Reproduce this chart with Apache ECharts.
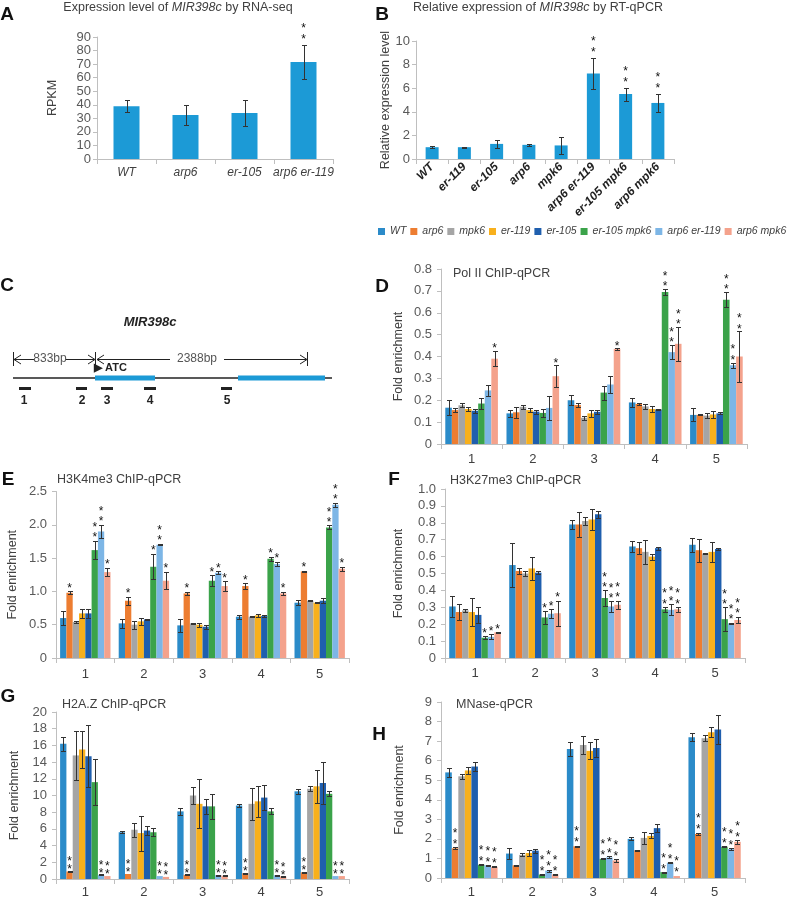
<!DOCTYPE html>
<html><head><meta charset="utf-8">
<script src="https://cdn.jsdelivr.net/npm/echarts@6/dist/echarts.min.js"></script>
<style>html,body{margin:0;padding:0;background:#fff}#c{width:791px;height:899px}</style>
</head><body><div id="c"></div>
<script>
// ---------- DATA ----------
const genotypes = ['WT','arp6','mpk6','er-119','er-105','er-105 mpk6','arp6 er-119','arp6 mpk6'];
const regions = ['1','2','3','4','5'];

// A: RNA-seq
const rnaSeqCats = ['WT','arp6','er-105','arp6 er-119'];
const rnaSeqVal = [39, 32.5, 34, 71.5];
const rnaSeqErr = [4.3, 7.2, 9.8, 12.5];
const rnaSeqStars = [0, 0, 0, 2];

// B: RT-qPCR
const rtCats = ['WT','er-119','er-105','arp6','mpk6','arp6 er-119','er-105 mpk6','arp6 mpk6'];
const rtVal = [1.0, 1.0, 1.28, 1.2, 1.15, 7.25, 5.5, 4.75];
const rtErr = [0.1, 0.04, 0.37, 0.08, 0.75, 1.35, 0.55, 0.8];
const rtStars = [0, 0, 0, 0, 0, 2, 2, 2];

// D: Pol II ChIP-qPCR  (rows = genotypes, cols = regions)
const polIIVal = [
  [0.166,0.140,0.200,0.190,0.133],
  [0.155,0.145,0.178,0.183,0.133],
  [0.177,0.170,0.120,0.172,0.130],
  [0.160,0.155,0.140,0.160,0.135],
  [0.152,0.148,0.147,0.158,0.140],
  [0.185,0.142,0.235,0.695,0.660],
  [0.245,0.165,0.272,0.420,0.360],
  [0.390,0.310,0.435,0.458,0.400]];
const polIIErr = [
  [0.033,0.015,0.023,0.022,0.030],
  [0.010,0.026,0.011,0.006,0.002],
  [0.010,0.010,0.008,0.012,0.013],
  [0.010,0.010,0.015,0.012,0.017],
  [0.010,0.009,0.010,0.001,0.005],
  [0.025,0.020,0.032,0.015,0.035],
  [0.025,0.055,0.040,0.033,0.012],
  [0.035,0.050,0.003,0.077,0.115]];
const polIIStars = [
  [0,0,0,0,0],[0,0,0,0,0],[0,0,0,0,0],[0,0,0,0,0],[0,0,0,0,0],
  [0,0,0,2,2],[0,0,0,2,2],[1,1,1,2,2]];

// E: H3K4me3 ChIP-qPCR
const h3k4Val = [
  [0.60,0.52,0.49,0.62,0.83],
  [0.98,0.86,0.97,1.08,1.30],
  [0.54,0.50,0.52,0.62,0.86],
  [0.67,0.55,0.50,0.64,0.83],
  [0.67,0.58,0.47,0.63,0.86],
  [1.62,1.37,1.16,1.49,1.96],
  [1.90,1.70,1.28,1.41,2.30],
  [1.29,1.16,1.08,0.97,1.34]];
const h3k4Err = [
  [0.10,0.07,0.10,0.03,0.04],
  [0.02,0.06,0.02,0.04,0.01],
  [0.01,0.06,0.01,0.01,0.01],
  [0.07,0.05,0.03,0.02,0.01],
  [0.07,0.01,0.03,0.01,0.04],
  [0.14,0.19,0.08,0.03,0.03],
  [0.10,0.01,0.02,0.03,0.03],
  [0.06,0.13,0.07,0.02,0.03]];
const h3k4Stars = [
  [0,0,0,0,0],[1,1,1,1,1],[0,0,0,0,0],[0,0,0,0,0],[0,0,0,0,0],
  [2,1,1,1,2],[2,2,1,1,2],[1,1,1,1,1]];

// F: H3K27me3 ChIP-qPCR
const h3k27Val = [
  [0.305,0.550,0.790,0.660,0.670],
  [0.272,0.515,0.790,0.650,0.638],
  [0.282,0.500,0.810,0.628,0.618],
  [0.272,0.530,0.820,0.600,0.628],
  [0.255,0.505,0.850,0.650,0.645],
  [0.120,0.240,0.355,0.288,0.230],
  [0.125,0.262,0.305,0.285,0.205],
  [0.152,0.265,0.315,0.288,0.225]];
const h3k27Err = [
  [0.060,0.130,0.025,0.033,0.043],
  [0.050,0.015,0.073,0.035,0.068],
  [0.010,0.012,0.023,0.073,0.003],
  [0.085,0.070,0.060,0.018,0.057],
  [0.045,0.010,0.020,0.008,0.008],
  [0.010,0.038,0.045,0.013,0.070],
  [0.015,0.025,0.030,0.032,0.005],
  [0.002,0.075,0.025,0.015,0.020]];
const h3k27Stars = [
  [0,0,0,0,0],[0,0,0,0,0],[0,0,0,0,0],[0,0,0,0,0],[0,0,0,0,0],
  [1,1,2,2,2],[1,1,2,2,2],[1,1,2,2,2]];

// G: H2A.Z ChIP-qPCR
const h2azVal = [
  [16.2,5.6,8.1,8.8,10.5],
  [0.9,0.6,0.5,0.7,0.8],
  [14.8,5.9,10.0,9.0,10.8],
  [15.5,5.5,9.0,9.3,11.1],
  [14.7,5.8,8.7,9.75,11.5],
  [11.6,5.6,8.7,8.1,10.2],
  [0.5,0.35,0.45,0.45,0.35],
  [0.35,0.25,0.4,0.3,0.35]];
const h2azErr = [
  [0.85,0.1,0.4,0.15,0.3],
  [0.05,0.05,0.05,0.05,0.05],
  [2.95,0.85,1.0,1.95,0.3],
  [2.25,2.1,2.95,1.85,2.0],
  [3.7,0.5,0.9,1.5,2.55],
  [2.75,0.5,1.5,0.35,0.3],
  [0.05,0.05,0.05,0.05,0.05],
  [0.03,0.03,0.03,0.03,0.03]];
const h2azStars = [
  [0,0,0,0,0],[2,2,2,2,2],[0,0,0,0,0],[0,0,0,0,0],[0,0,0,0,0],
  [0,0,0,0,0],[2,2,2,2,2],[2,2,2,2,2]];

// H: MNase-qPCR
const mnaseVal = [
  [5.4,1.25,6.6,2.0,7.2],
  [1.52,0.65,1.62,1.42,2.25],
  [5.2,1.18,6.8,2.05,7.15],
  [5.5,1.28,6.5,2.15,7.45],
  [5.7,1.4,6.65,2.55,7.6],
  [0.68,0.18,0.98,0.3,1.6],
  [0.65,0.38,1.05,0.78,1.48],
  [0.57,0.18,0.9,0.1,1.85]];
const mnaseErr = [
  [0.25,0.3,0.35,0.08,0.2],
  [0.05,0.02,0.04,0.02,0.07],
  [0.12,0.08,0.47,0.3,0.15],
  [0.2,0.14,0.43,0.13,0.25],
  [0.23,0.1,0.45,0.2,0.75],
  [0.02,0.02,0.02,0.02,0.03],
  [0.02,0.05,0.05,0.02,0.07],
  [0.03,0.03,0.08,0.02,0.1]];
const mnaseStars = [
  [0,0,0,0,0],[2,0,2,0,2],[0,0,0,0,0],[0,0,0,0,0],[0,0,0,0,0],
  [2,2,2,2,2],[2,2,2,2,2],[2,2,2,2,2]];

// ---------- STYLE ----------
const genoColors = ['#2b8bc9','#ed7d31','#a5a5a5','#f8b01c','#1f5fae','#3ba34a','#7db6e6','#f4a28c'];
const singleColor = '#1c9ad6';
const FONT = '"Liberation Sans", Arial, sans-serif';
const CAT_GAP = 0.14;

const grids = [], xAxes = [], yAxes = [], series = [];

function addPanel(o) {
  const gi = grids.length;
  grids.push({left: o.left, top: o.top, width: o.width, height: o.height, containLabel: false});
  xAxes.push({
    type: 'category', gridIndex: gi, data: o.cats,
    axisLine: {lineStyle: {color: '#bfbfbf'}},
    axisTick: {show: true, length: 5, lineStyle: {color: '#bfbfbf'}},
    axisLabel: Object.assign({color: '#404040', fontSize: 13, fontFamily: FONT, margin: o.xMargin || 8, interval: 0}, o.xLabel || {})
  });
  yAxes.push({
    type: 'value', gridIndex: gi, min: 0, max: o.max, interval: o.interval,
    splitLine: {show: false},
    axisLine: {show: true, lineStyle: {color: '#bfbfbf'}},
    axisTick: {show: true, length: 4, lineStyle: {color: '#bfbfbf'}},
    axisLabel: {color: '#595959', fontSize: 13, fontFamily: FONT, margin: o.yMargin || 8, formatter: o.fmt},
    name: o.yName, nameLocation: 'middle', nameGap: o.nameGap, nameRotate: 90,
    nameTextStyle: {color: '#404040', fontSize: 12.5, fontFamily: FONT}
  });
  return gi;
}

function errRender(nSer, offs) {
  return function (params, api) {
    const cat = api.value(0), si = api.value(1), v = api.value(2), e = api.value(3), ns = api.value(4);
    const band = api.size([1, 0])[0];
    const top = api.coord([cat, v + e]);
    const bot = api.coord([cat, Math.max(0, v - e)]);
    let x = top[0];
    if (nSer > 1) {
      const gw = band * (1 - CAT_GAP), bw = gw / nSer;
      x = top[0] - gw / 2 + bw * (si + 0.5);
    }
    const xs = Math.round(x) + 0.5;
    const yt = Math.round(top[1]) + 0.5, yb = Math.round(bot[1]) + 0.5;
    const ch = [];
    if (Math.abs(yb - yt) >= 1) {
      const st = {stroke: '#333', lineWidth: 1};
      const cap = 2.5;
      ch.push({type: 'line', shape: {x1: xs, y1: yt, x2: xs, y2: yb}, style: st});
      ch.push({type: 'line', shape: {x1: xs - cap, y1: yt, x2: xs + cap, y2: yt}, style: st});
      ch.push({type: 'line', shape: {x1: xs - cap, y1: yb, x2: xs + cap, y2: yb}, style: st});
    }
    for (let k = 0; k < ns; k++) {
      ch.push({type: 'text', style: {text: '*', x: x, y: top[1] - offs[k] + 3, textAlign: 'center',
        textVerticalAlign: 'middle', fontSize: 12, fontFamily: FONT, fill: '#111'}});
    }
    return {type: 'group', children: ch};
  };
}

function singleBars(gi, name, vals, errs, stars, barW, offs) {
  series.push({type: 'bar', name: name, xAxisIndex: gi, yAxisIndex: gi, data: vals, barWidth: barW,
    itemStyle: {color: singleColor}, silent: true});
  const d = vals.map((v, i) => [i, 0, v, errs[i], stars[i]]);
  series.push({type: 'custom', name: name + '-err', xAxisIndex: gi, yAxisIndex: gi, data: d,
    encode: {x: 0, y: 2}, renderItem: errRender(1, offs), silent: true, z: 5});
}

function groupedBars(gi, vals, errs, stars, offs) {
  genotypes.forEach((g, si) => {
    series.push({type: 'bar', name: g, xAxisIndex: gi, yAxisIndex: gi, data: vals[si],
      barGap: '0%', barCategoryGap: (CAT_GAP * 100) + '%', itemStyle: {color: genoColors[si]}, silent: true});
  });
  const d = [];
  genotypes.forEach((g, si) => regions.forEach((r, ci) => d.push([ci, si, vals[si][ci], errs[si][ci], stars[si][ci]])));
  series.push({type: 'custom', name: 'err' + gi, xAxisIndex: gi, yAxisIndex: gi, data: d,
    encode: {x: 0, y: 2}, renderItem: errRender(genotypes.length, offs), silent: true, z: 5});
}

const f1 = v => v === 0 ? '0' : v.toFixed(1);

// A
let gi = addPanel({left: 97, top: 37, width: 236, height: 122, cats: rnaSeqCats, max: 90, interval: 10,
  yName: 'RPKM', nameGap: 38, yMargin: 6, xMargin: 8,
  xLabel: {fontStyle: 'italic', fontSize: 12, color: '#404040'}});
singleBars(gi, 'RNA-seq', rnaSeqVal, rnaSeqErr, rnaSeqStars, 26, [8, 19]);

// B
gi = addPanel({left: 416, top: 41, width: 258, height: 118, cats: rtCats, max: 10, interval: 2,
  yName: 'Relative expression level', nameGap: 22, yMargin: 6, xMargin: 6,
  xLabel: {fontStyle: 'italic', fontWeight: 'bold', fontSize: 12, color: '#222', rotate: 45}});
singleBars(gi, 'RT-qPCR', rtVal, rtErr, rtStars, 13, [8, 19]);

// D
gi = addPanel({left: 441, top: 269, width: 306, height: 175, cats: regions, max: 0.8, interval: 0.1,
  yName: 'Fold enrichment', nameGap: 36, fmt: f1, yMargin: 9, xMargin: 9});
groupedBars(gi, polIIVal, polIIErr, polIIStars, [5, 15.5]);

// E
gi = addPanel({left: 56, top: 491.5, width: 293, height: 166.5, cats: regions, max: 2.5, interval: 0.5,
  yName: 'Fold enrichment', nameGap: 37, fmt: f1, yMargin: 9, xMargin: 10});
groupedBars(gi, h3k4Val, h3k4Err, h3k4Stars, [6, 16]);

// F
gi = addPanel({left: 445, top: 489, width: 300, height: 169, cats: regions, max: 1.0, interval: 0.1,
  yName: 'Fold enrichment', nameGap: 40, fmt: f1, yMargin: 9, xMargin: 9});
groupedBars(gi, h3k27Val, h3k27Err, h3k27Stars, [5.5, 16]);

// G
gi = addPanel({left: 56, top: 712, width: 293, height: 169, cats: regions, max: 20, interval: 2,
  yName: 'Fold enrichment', nameGap: 35, yMargin: 9, xMargin: 7});
groupedBars(gi, h2azVal, h2azErr, h2azStars, [4, 12]);

// H
gi = addPanel({left: 441, top: 702, width: 304, height: 177, cats: regions, max: 9, interval: 1,
  yName: 'Fold enrichment', nameGap: 35, yMargin: 9, xMargin: 8});
groupedBars(gi, mnaseVal, mnaseErr, mnaseStars, [5.5, 16.5]);

// ---------- TEXT / SCHEMATIC ----------
function txt(x, y, text, o) {
  o = o || {};
  return {type: 'text', x: x, y: y, silent: true, style: Object.assign({text: text, fontSize: 12, fontFamily: FONT,
    fill: '#404040', textAlign: 'left', textVerticalAlign: 'middle'}, o)};
}
const letter = (x, y, t) => txt(x, y, t, {fontSize: 19, fontWeight: 'bold', fill: '#111', textAlign: 'center'});

const rich = {n: {fontSize: 12.5, fontFamily: FONT, fill: '#404040', color: '#404040'},
              i: {fontSize: 12.5, fontFamily: FONT, fontStyle: 'italic', fill: '#404040', color: '#404040'}};

const graphics = [
  letter(7, 15, 'A'), letter(382, 15, 'B'), letter(7, 286, 'C'), letter(382, 287, 'D'),
  letter(8, 480, 'E'), letter(394, 480, 'F'), letter(8, 697, 'G'), letter(379, 735, 'H'),
  txt(178, 8, '{n|Expression level of }{i|MIR398c}{n| by RNA-seq}', {textAlign: 'center', rich: rich}),
  txt(538, 8, '{n|Relative expression of }{i|MIR398c}{n| by RT-qPCR}', {textAlign: 'center', rich: rich}),
  txt(453, 274, 'Pol II ChIP-qPCR', {fontSize: 12.5}),
  txt(57, 480, 'H3K4me3 ChIP-qPCR', {fontSize: 12.5}),
  txt(450, 481, 'H3K27me3 ChIP-qPCR', {fontSize: 12.5}),
  txt(62, 705, 'H2A.Z ChIP-qPCR', {fontSize: 12.5}),
  txt(456, 705, 'MNase-qPCR', {fontSize: 12.5})
];

// Panel C schematic (gene model drawing)
const ln = (x1, y1, x2, y2, w) => ({type: 'line', silent: true, shape: {x1: x1, y1: y1, x2: x2, y2: y2},
  style: {stroke: '#222', lineWidth: w || 1}});
const pl = (pts) => ({type: 'polyline', silent: true, shape: {points: pts}, style: {stroke: '#222', lineWidth: 1, fill: null}});
const schematic = {type: 'group', x: 0, y: 0, children: [
  txt(150, 322, 'MIR398c', {fontWeight: 'bold', fontStyle: 'italic', fontSize: 13, fill: '#222', textAlign: 'center'}),
  ln(13, 378, 332, 378, 1.5),
  {type: 'rect', silent: true, shape: {x: 95, y: 375.5, width: 60, height: 5}, style: {fill: '#1c9ad6'}},
  {type: 'rect', silent: true, shape: {x: 238, y: 375.5, width: 87, height: 5}, style: {fill: '#1c9ad6'}},
  ln(13.5, 352, 13.5, 366), ln(95.5, 352, 95.5, 367), ln(307.5, 352, 307.5, 366),
  ln(14, 359.5, 34, 359.5), ln(66, 359.5, 94, 359.5),
  pl([[21, 355], [14, 359.5], [21, 364]]), pl([[88, 355], [95, 359.5], [88, 364]]),
  ln(97, 359.5, 170, 359.5), ln(224, 359.5, 306, 359.5),
  pl([[104, 355], [97, 359.5], [104, 364]]), pl([[300, 355], [307, 359.5], [300, 364]]),
  txt(50, 359, '833bp', {textAlign: 'center', fill: '#555'}),
  txt(197, 359, '2388bp', {textAlign: 'center', fill: '#555'}),
  txt(94, 368, '\u25B6 ATC', {fontWeight: 'bold', fontSize: 11, fill: '#222'}),
  {type: 'rect', silent: true, shape: {x: 19, y: 387, width: 12, height: 3}, style: {fill: '#222'}},
  {type: 'rect', silent: true, shape: {x: 76, y: 387, width: 11, height: 3}, style: {fill: '#222'}},
  {type: 'rect', silent: true, shape: {x: 101, y: 387, width: 12, height: 3}, style: {fill: '#222'}},
  {type: 'rect', silent: true, shape: {x: 144, y: 387, width: 12, height: 3}, style: {fill: '#222'}},
  {type: 'rect', silent: true, shape: {x: 221, y: 387, width: 11, height: 3}, style: {fill: '#222'}},
  txt(24, 401, '1', {fontWeight: 'bold', fill: '#222', textAlign: 'center'}),
  txt(82, 401, '2', {fontWeight: 'bold', fill: '#222', textAlign: 'center'}),
  txt(107, 401, '3', {fontWeight: 'bold', fill: '#222', textAlign: 'center'}),
  txt(150, 401, '4', {fontWeight: 'bold', fill: '#222', textAlign: 'center'}),
  txt(227, 401, '5', {fontWeight: 'bold', fill: '#222', textAlign: 'center'})
]};
graphics.push(schematic);

const chart = echarts.init(document.getElementById('c'), null, {renderer: 'canvas'});
chart.setOption({
  animation: false,
  backgroundColor: '#fff',
  textStyle: {fontFamily: FONT},
  legend: {data: genotypes, left: 378, top: 226, padding: 0, itemWidth: 7, itemHeight: 7, itemGap: 4, icon: 'rect',
    selectedMode: false, textStyle: {fontStyle: 'italic', fontSize: 10.5, color: '#404040', fontFamily: FONT}},
  grid: grids, xAxis: xAxes, yAxis: yAxes, series: series,
  graphic: graphics
});
</script></body></html>
